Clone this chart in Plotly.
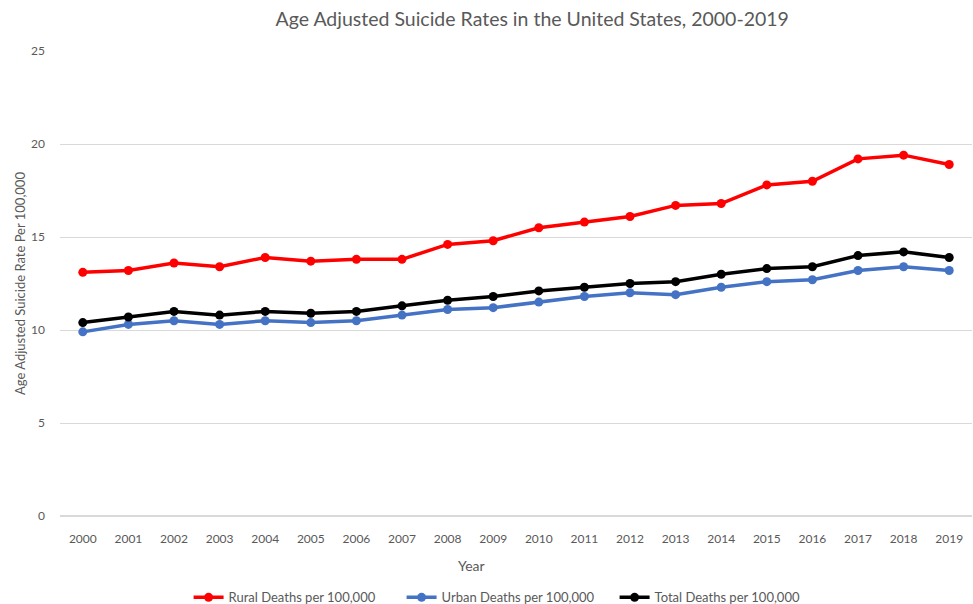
import plotly.graph_objects as go

years = [str(y) for y in range(2000, 2020)]
rural = [13.1, 13.2, 13.6, 13.4, 13.9, 13.7, 13.8, 13.8, 14.6, 14.8, 15.5, 15.8, 16.1, 16.7, 16.8, 17.8, 18.0, 19.2, 19.4, 18.9]
urban = [9.9, 10.3, 10.5, 10.3, 10.5, 10.4, 10.5, 10.8, 11.1, 11.2, 11.5, 11.8, 12.0, 11.9, 12.3, 12.6, 12.7, 13.2, 13.4, 13.2]
total = [10.4, 10.7, 11.0, 10.8, 11.0, 10.9, 11.0, 11.3, 11.6, 11.8, 12.1, 12.3, 12.5, 12.6, 13.0, 13.3, 13.4, 14.0, 14.2, 13.9]

series = [
    ("Rural Deaths per 100,000", rural, "#FF0000"),
    ("Urban Deaths per 100,000", urban, "#4472C4"),
    ("Total Deaths per 100,000", total, "#000000"),
]

fig = go.Figure()
for name, vals, color in series:
    fig.add_trace(go.Scatter(
        x=years, y=vals, name=name, mode="lines+markers",
        line=dict(color=color, width=3.5),
        marker=dict(color=color, size=9),
    ))

fig.update_layout(
    width=973, height=604,
    margin=dict(l=60, r=1, t=51, b=88, autoexpand=False),
    paper_bgcolor="white", plot_bgcolor="white",
    font=dict(family="Lato, Open Sans, sans-serif", color="#595959", size=12),
    title=dict(text="Age Adjusted Suicide Rates in the United States, 2000-2019",
               x=0.547, xanchor="center", y=0.968, yanchor="middle",
               font=dict(size=19.5, color="#595959")),
    xaxis=dict(type="category", range=[-0.5, 19.5], autorange=False,
               showgrid=False, showline=False, ticks="", ticklabelstandoff=14,
               tickfont=dict(size=12, color="#595959"), automargin=False),
    yaxis=dict(range=[0, 25], dtick=5, showgrid=True, gridcolor="#D9D9D9", gridwidth=1,
               zeroline=True, zerolinecolor="#D9D9D9", zerolinewidth=1.5,
               showline=False, ticks="", ticklabelstandoff=14, automargin=False,
               title=dict(text="Age Adjusted Suicide Rate Per 100,000", font=dict(size=13, color="#595959"), standoff=2),
               tickfont=dict(size=12, color="#595959")),
    legend=dict(orientation="h", x=0.141, xanchor="left", y=-0.175, yanchor="middle",
                font=dict(size=13, color="#595959"), itemwidth=30, tracegroupgap=0,
                entrywidth=168, entrywidthmode="pixels"),
    annotations=[dict(text="Year", xref="paper", yref="paper", x=0.4507, y=-0.1075,
                      xanchor="center", yanchor="middle", showarrow=False,
                      font=dict(size=14, color="#595959"))],
    showlegend=True,
)

fig.write_html("out.html")
